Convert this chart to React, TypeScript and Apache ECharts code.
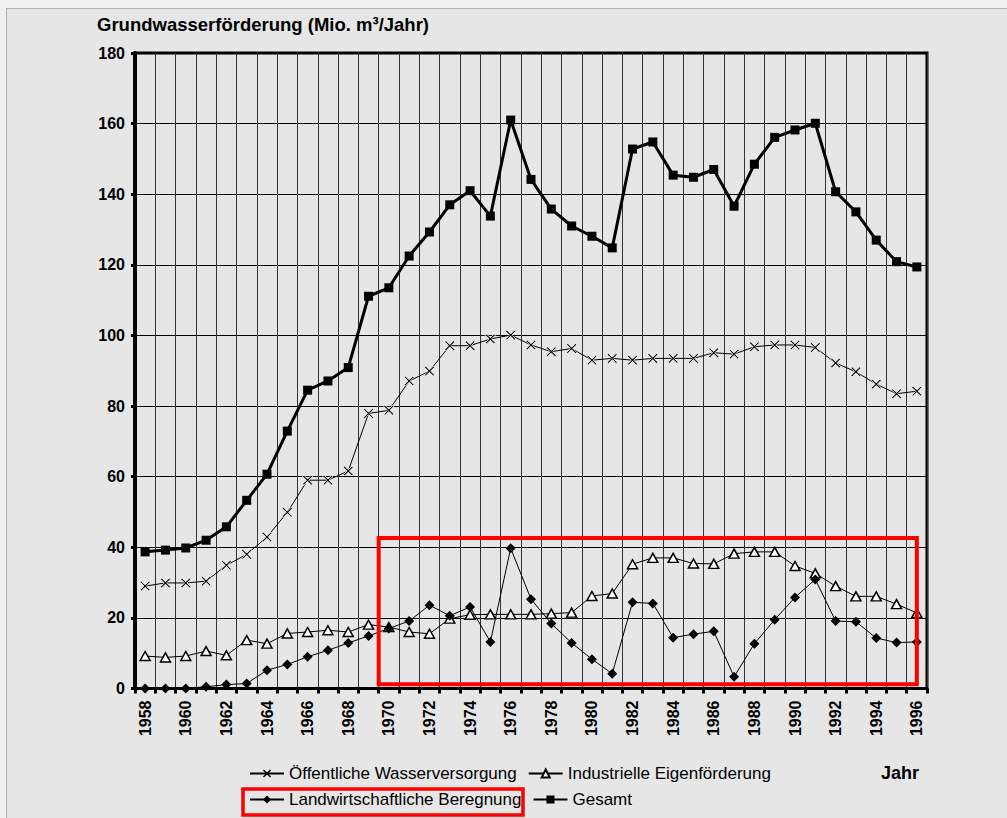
import React, { useEffect, useRef } from "react";
import * as echarts from "echarts";

const years = [
  "1958", "1959", "1960", "1961", "1962", "1963", "1964", "1965", "1966", "1967",
  "1968", "1969", "1970", "1971", "1972", "1973", "1974", "1975", "1976", "1977",
  "1978", "1979", "1980", "1981", "1982", "1983", "1984", "1985", "1986", "1987",
  "1988", "1989", "1990", "1991", "1992", "1993", "1994", "1995", "1996",
];

const oeffentlich = [
  29.0, 29.9, 29.9, 30.4, 34.9, 38.0, 42.9, 49.9, 59.0, 59.0, 61.6,
  77.9, 78.8, 87.1, 89.9, 97.1, 97.1, 99.0, 100.1, 97.3, 95.4,
  96.3, 93.0, 93.5, 93.0, 93.5, 93.5, 93.5, 95.1, 94.7, 96.8,
  97.3, 97.3, 96.6, 92.2, 89.7, 86.2, 83.5, 84.2,
];

const industriell = [
  9.2, 8.8, 9.2, 10.6, 9.4, 13.7, 12.7, 15.6, 16.0, 16.5, 16.0,
  18.1, 17.4, 16.0, 15.5, 19.8, 20.9, 21.0, 21.0, 21.0, 21.2,
  21.5, 26.2, 26.9, 35.2, 37.0, 37.0, 35.4, 35.3, 38.2, 38.7,
  38.7, 34.7, 32.6, 29.0, 26.1, 26.1, 23.9, 21.4,
];

const landwirtschaft = [
  0, 0, 0, 0.5, 1.1, 1.4, 5.2, 6.8, 9.0, 10.8, 12.9,
  14.9, 17.0, 19.1, 23.6, 20.6, 23.1, 13.2, 39.7, 25.3, 18.4,
  12.9, 8.3, 4.2, 24.4, 24.1, 14.4, 15.4, 16.2, 3.3, 12.7,
  19.5, 25.8, 30.9, 19.1, 18.9, 14.3, 13.0, 13.2,
];

const gesamt = [
  38.7, 39.2, 39.8, 42.0, 45.8, 53.3, 60.7, 72.9, 84.5, 87.1, 90.9,
  111.1, 113.5, 122.5, 129.3, 137.0, 141.0, 133.8, 161.0, 144.2, 135.8,
  131.0, 128.1, 124.8, 152.8, 154.8, 145.4, 144.8, 147.0, 136.6, 148.5,
  156.1, 158.2, 160.1, 140.7, 135.0, 127.0, 120.9, 119.4,
];

const names = [
  "Öffentliche Wasserversorgung",
  "Industrielle Eigenförderung",
  "Landwirtschaftliche Beregnung",
  "Gesamt",
];

const yMin = 0;
const yMax = 180;
const yStep = 20;

// highlighted region (data coordinates)
const boxFromYear = "1970";
const boxToYear = "1996";
const boxTop = 42.6;
const boxBottom = 1.2;

const FONT = "'Liberation Sans', Arial, Helvetica, sans-serif";
const X_SYMBOL =
  "path://M0,1.2L1.2,0L5,3.8L8.8,0L10,1.2L6.2,5L10,8.8L8.8,10L5,6.2L1.2,10L0,8.8L3.8,5Z";

export default function App() {
  const ref = useRef<HTMLDivElement>(null);

  useEffect(() => {
    if (!ref.current) return;
    const chart = echarts.init(ref.current, null, { renderer: "svg" });

    const legendText = { fontSize: 17, color: "#000", fontFamily: FONT };

    chart.setOption({
      animation: false,
      backgroundColor: "transparent",
      textStyle: { fontFamily: FONT },
      title: [
        {
          text: "Grundwasserförderung (Mio. m³/Jahr)",
          left: 97,
          top: 15,
          padding: 0,
          textStyle: { fontSize: 18.5, fontWeight: "bold", color: "#000", fontFamily: FONT },
        },
        {
          text: "Jahr",
          left: 881,
          top: 764,
          padding: 0,
          textStyle: { fontSize: 18, fontWeight: "bold", color: "#000", fontFamily: FONT },
        },
      ],
      legend: [
        {
          data: [
            { name: names[0], itemStyle: { color: "#000", borderWidth: 0 } },
            names[1],
          ],
          left: 249,
          top: 765,
          padding: 0,
          itemWidth: 34,
          itemHeight: 10,
          itemGap: 11,
          textStyle: legendText,
          selectedMode: false,
        },
        {
          data: [names[2], names[3]],
          left: 249,
          top: 791,
          padding: 0,
          itemWidth: 34,
          itemHeight: 10,
          itemGap: 11,
          textStyle: legendText,
          selectedMode: false,
        },
      ],
      grid: {
        left: 135,
        top: 53,
        width: 792,
        height: 635.5,
        show: true,
        borderColor: "#000",
        borderWidth: 3,
        backgroundColor: "transparent",
      },
      xAxis: {
        type: "category",
        data: years,
        boundaryGap: true,
        axisLine: { show: true, lineStyle: { color: "#000", width: 3 } },
        axisTick: {
          show: true,
          interval: 0,
          length: 5,
          lineStyle: { color: "#000", width: 3 },
        },
        axisLabel: {
          interval: 1,
          rotate: 90,
          margin: 12,
          fontSize: 16,
          fontWeight: "bold",
          color: "#000",
          fontFamily: FONT,
        },
        splitLine: {
          show: true,
          interval: 0,
          lineStyle: { color: "#333", width: 1 },
        },
      },
      yAxis: {
        type: "value",
        min: yMin,
        max: yMax,
        interval: yStep,
        axisLine: { show: true, lineStyle: { color: "#000", width: 4 } },
        axisTick: { show: true, length: 4, lineStyle: { color: "#000", width: 3 } },
        axisLabel: {
          margin: 10,
          fontSize: 16,
          fontWeight: "bold",
          color: "#000",
          fontFamily: FONT,
        },
        splitLine: { show: true, lineStyle: { color: "#000", width: 1 } },
      },
      series: [
        {
          name: names[0],
          type: "line",
          data: oeffentlich,
          symbol: X_SYMBOL,
          symbolSize: 10,
          showAllSymbol: true,
          lineStyle: { color: "#000", width: 1 },
          itemStyle: { color: "#000", borderColor: "#fff", borderWidth: 0.8 },
          z: 3,
        },
        {
          name: names[1],
          type: "line",
          data: industriell,
          symbol: "triangle",
          symbolSize: [10, 9],
          showAllSymbol: true,
          lineStyle: { color: "#000", width: 1 },
          itemStyle: { color: "#fff", borderColor: "#000", borderWidth: 1.5 },
          z: 3,
        },
        {
          name: names[2],
          type: "line",
          data: landwirtschaft,
          symbol: "diamond",
          symbolSize: 10,
          showAllSymbol: true,
          lineStyle: { color: "#000", width: 1 },
          itemStyle: { color: "#000" },
          z: 4,
        },
        {
          name: names[3],
          type: "line",
          data: gesamt,
          symbol: "rect",
          symbolSize: 9,
          showAllSymbol: true,
          lineStyle: { color: "#000", width: 3 },
          itemStyle: { color: "#000" },
          z: 5,
        },
      ],
    });

    const toPx = (cat: string | number, v: number) =>
      chart.convertToPixel({ xAxisIndex: 0, yAxisIndex: 0 }, [cat, v]) as number[];
    const a = toPx(0, 0);
    const b = toPx(1, 0);
    const catW = b[0] - a[0];
    const pTL = toPx(boxFromYear, boxTop);
    const pBR = toPx(boxToYear, boxBottom);
    const xl = pTL[0] - catW / 2;
    const xr = pBR[0];

    chart.setOption({
      graphic: [
        {
          type: "rect",
          z: 100,
          shape: { x: xl, y: pTL[1], width: xr - xl, height: pBR[1] - pTL[1] },
          style: { fill: "none", stroke: "#ff0000", lineWidth: 4 },
          silent: true,
        },
        {
          type: "rect",
          z: 100,
          shape: { x: 243, y: 789, width: 280, height: 26 },
          style: { fill: "none", stroke: "#ff0000", lineWidth: 3.5 },
          silent: true,
        },
      ],
    });

    return () => chart.dispose();
  }, []);

  return (
    <div
      style={{
        position: "absolute",
        left: 0,
        top: 0,
        width: 1007,
        height: 818,
        background: "#f0f0f0",
        overflow: "hidden",
      }}
    >
      <div
        style={{
          position: "absolute",
          left: 6,
          top: 8,
          width: 1010,
          height: 820,
          background: "#e6e6e6",
          border: "1px solid #b4b4b4",
          boxSizing: "border-box",
        }}
      />
      <div
        ref={ref}
        style={{ position: "absolute", left: 0, top: 0, width: 1007, height: 818 }}
      />
    </div>
  );
}
